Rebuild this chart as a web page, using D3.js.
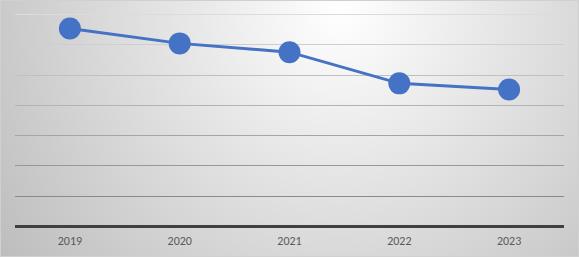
<!DOCTYPE html>
<html><head><meta charset="utf-8">
<script src="https://cdn.jsdelivr.net/npm/d3@7"></script>
<style>html,body{margin:0;padding:0;background:#fff}svg{display:block}</style>
</head><body>
<svg id="c" width="579" height="257"></svg>
<script>
const categories = ["2019","2020","2021","2022","2023"];
const values = [6.52, 6.03, 5.74, 4.71, 4.51];
const yTicks = [0,1,2,3,4,5,6,7];

const W = 579, H = 257;
const svg = d3.select("#c");
const defs = svg.append("defs");
const rg = defs.append("radialGradient").attr("id","bg")
  .attr("gradientUnits","userSpaceOnUse")
  .attr("cx",340).attr("cy",10).attr("r",420);
rg.append("stop").attr("offset","0%").attr("stop-color","#ffffff");
rg.append("stop").attr("offset","100%").attr("stop-color","#bdbdbd");
const lg = defs.append("linearGradient").attr("id","grid")
  .attr("gradientUnits","userSpaceOnUse")
  .attr("x1",0).attr("y1",14).attr("x2",0).attr("y2",196);
lg.append("stop").attr("offset","0%").attr("stop-color","#dcdcdc");
lg.append("stop").attr("offset","100%").attr("stop-color","#8a8a8a");

svg.append("rect").attr("x",0).attr("y",0).attr("width",W).attr("height",H).attr("fill","url(#bg)");
svg.append("rect").attr("x",0.5).attr("y",0.5).attr("width",W-1).attr("height",H-1)
  .attr("fill","none").attr("stroke","#d0d0d0");

const x = d3.scaleBand().domain(categories).range([15,564]);
const y = d3.scaleLinear().domain([0,7]).range([226,14]);

svg.append("g").selectAll("line").data(yTicks.slice(1)).join("line")
  .attr("x1",x.range()[0]).attr("x2",x.range()[1])
  .attr("y1",d=>Math.round(y(d))+0.5).attr("y2",d=>Math.round(y(d))+0.5)
  .attr("stroke","url(#grid)").attr("stroke-width",1);

const xAxis = svg.append("g").attr("transform","translate(0,226)")
  .call(d3.axisBottom(x).tickSize(0).tickPadding(10));
xAxis.select(".domain").remove();
xAxis.selectAll("text").attr("fill","#595959").attr("font-family","Carlito, Lato, 'Open Sans', sans-serif").attr("font-size",12);
svg.append("line").attr("x1",x.range()[0]).attr("x2",x.range()[1])
  .attr("y1",y(0)+0.5).attr("y2",y(0)+0.5)
  .attr("stroke","#404040").attr("stroke-width",3);

const line = d3.line().x((d,i)=>x(categories[i])+x.bandwidth()/2).y(d=>y(d));
svg.append("path").datum(values).attr("d",line).attr("fill","none")
  .attr("stroke","#4472C4").attr("stroke-width",3);
svg.append("g").selectAll("circle").data(values).join("circle")
  .attr("cx",(d,i)=>x(categories[i])+x.bandwidth()/2).attr("cy",d=>y(d)).attr("r",11)
  .attr("fill","#4472C4");
</script>
</body></html>
